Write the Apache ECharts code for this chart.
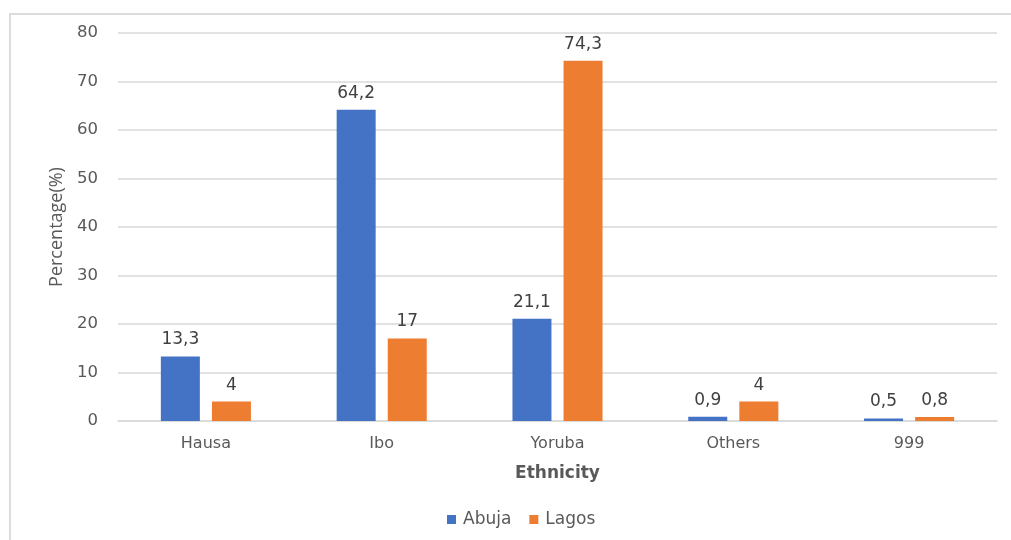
<!DOCTYPE html>
<html>
<head>
<meta charset="utf-8">
<script src="https://cdn.jsdelivr.net/npm/echarts@6/dist/echarts.min.js"></script>
<style>
  html, body { margin: 0; padding: 0; background: #fff; }
  #chart { width: 1011px; height: 540px; }
</style>
</head>
<body>
<div id="chart"></div>
<script>
// Ethnicity shares by city (%)
const categories = ['Hausa', 'Ibo', 'Yoruba', 'Others', '999'];
const abuja = [13.3, 64.2, 21.1, 0.9, 0.5];
const lagos = [4, 17, 74.3, 4, 0.8];
const yTicks = [0, 10, 20, 30, 40, 50, 60, 70, 80];

const fmt = v => String(v).replace('.', ',');
const textColor = '#595959';
const font = 'DejaVu Sans';

const chart = echarts.init(document.getElementById('chart'));
const labelStyle = {
  show: true,
  position: 'top',
  distance: 8,
  color: '#404040',
  fontFamily: font,
  fontSize: 17,
  formatter: p => fmt(p.value)
};

chart.setOption({
  animation: false,
  // outer chart-area frame (top and left edges)
  graphic: [{
    type: 'polyline',
    silent: true,
    shape: { points: [[10, 560], [10, 14], [1030, 14]] },
    style: { stroke: '#dcdcdc', lineWidth: 2, fill: null }
  }],
  grid: { left: 118, right: 14, top: 33, bottom: 119 },
  legend: {
    data: ['Abuja', 'Lagos'],
    bottom: 7,
    left: 442,
    itemWidth: 9,
    itemHeight: 9,
    itemGap: 18,
    icon: 'rect',
    textStyle: { color: textColor, fontFamily: font, fontSize: 17, padding: [0, 0, 0, 2] }
  },
  xAxis: {
    type: 'category',
    data: categories,
    name: 'Ethnicity',
    nameLocation: 'middle',
    nameGap: 44,
    nameTextStyle: { color: textColor, fontFamily: font, fontSize: 17, fontWeight: 'bold' },
    axisLine: { lineStyle: { color: '#d9d9d9', width: 1.5 } },
    axisTick: { show: false },
    axisLabel: { color: textColor, fontFamily: font, fontSize: 16, margin: 15 }
  },
  yAxis: {
    type: 'value',
    min: yTicks[0],
    max: yTicks[yTicks.length - 1],
    interval: yTicks[1] - yTicks[0],
    name: 'Percentage(%)',
    nameLocation: 'middle',
    nameGap: 51,
    nameTextStyle: { color: textColor, fontFamily: 'Open Sans', fontSize: 18 },
    axisLine: { show: false },
    axisTick: { show: false },
    axisLabel: { color: textColor, fontFamily: font, fontSize: 16.5, margin: 20 },
    splitLine: { lineStyle: { color: '#d9d9d9', width: 1.5 } }
  },
  series: [
    {
      name: 'Abuja',
      type: 'bar',
      data: abuja,
      barWidth: 39,
      barGap: '31%',
      itemStyle: { color: '#4472C4' },
      label: labelStyle
    },
    {
      name: 'Lagos',
      type: 'bar',
      data: lagos,
      barWidth: 39,
      itemStyle: { color: '#ED7D31' },
      label: labelStyle
    }
  ]
});
</script>
</body>
</html>
